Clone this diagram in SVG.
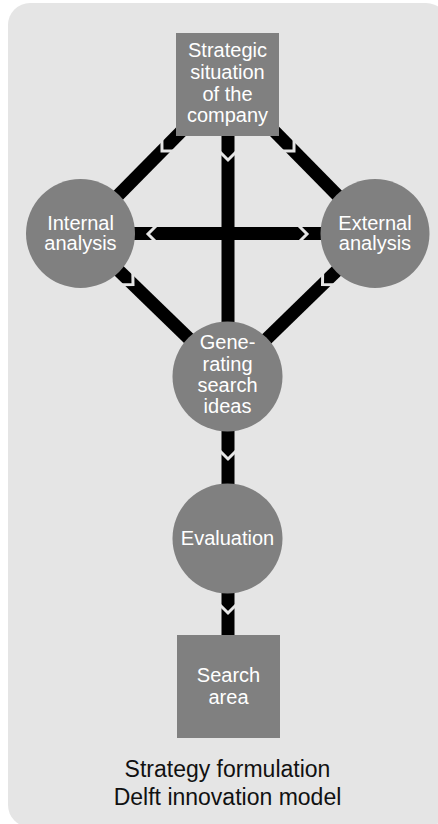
<svg xmlns="http://www.w3.org/2000/svg" xmlns:xlink="http://www.w3.org/1999/xlink" width="438" height="824" viewBox="0 0 438 824">
  <style>
    .panel { fill: #e5e5e5; }
    .node { fill: #808080; }
    .label { font-family: "Liberation Sans", Arial, sans-serif; font-size: 20px; fill: #ffffff; text-anchor: middle; }
    .caption { font-family: "Liberation Sans", Arial, sans-serif; font-size: 23px; fill: #111111; text-anchor: middle; }
    .link { stroke: #000000; stroke-width: 13; fill: none; }
    .chev { stroke: #e5e5e5; stroke-width: 3; fill: none; stroke-linejoin: miter; }
  </style>
  <defs>
    <!-- chevron cut pointing along +x, tip at the origin -->
    <path id="chev" class="chev" d="M-9,-9 L0,0 L-9,9"/>
  </defs>

  <rect class="panel" x="8" y="3" width="440" height="824" rx="22" ry="22"/>

  <g id="connectors">
    <line class="link" x1="228" y1="84" x2="80.5" y2="233.5"/>
    <line class="link" x1="228" y1="84" x2="375" y2="233.5"/>
    <line class="link" x1="228" y1="84" x2="228" y2="376.5"/>
    <line class="link" x1="80.5" y1="233.5" x2="375" y2="233.5"/>
    <line class="link" x1="80.5" y1="233.5" x2="228" y2="376.5"/>
    <line class="link" x1="375" y1="233.5" x2="228" y2="376.5"/>
    <line class="link" x1="228" y1="376.5" x2="228" y2="686"/>
    <!-- direction marks -->
    <use xlink:href="#chev" transform="translate(162,151) rotate(134.6)"/>
    <use xlink:href="#chev" transform="translate(294,151) rotate(45.4)"/>
    <use xlink:href="#chev" transform="translate(228,160) rotate(90)"/>
    <use xlink:href="#chev" transform="translate(148,234) rotate(180)"/>
    <use xlink:href="#chev" transform="translate(307,234)"/>
    <use xlink:href="#chev" transform="translate(133,284.5) rotate(44.2)"/>
    <use xlink:href="#chev" transform="translate(322.5,284.5) rotate(135.8)"/>
    <use xlink:href="#chev" transform="translate(228,459) rotate(90)"/>
    <use xlink:href="#chev" transform="translate(228,613) rotate(90)"/>
  </g>

  <g id="strategic-situation">
    <rect class="node" x="176" y="33" width="103" height="103"/>
    <text class="label" x="227.5" y="57">Strategic</text>
    <text class="label" x="227.5" y="79">situation</text>
    <text class="label" x="227.5" y="101">of the</text>
    <text class="label" x="227.5" y="122">company</text>
  </g>

  <g id="internal-analysis">
    <circle class="node" cx="80.5" cy="233.5" r="54.5"/>
    <text class="label" x="80.5" y="230">Internal</text>
    <text class="label" x="80.5" y="250">analysis</text>
  </g>

  <g id="external-analysis">
    <circle class="node" cx="375" cy="233.5" r="54.5"/>
    <text class="label" x="375" y="230">External</text>
    <text class="label" x="375" y="250">analysis</text>
  </g>

  <g id="generating-search-ideas">
    <circle class="node" cx="227.5" cy="376.5" r="55"/>
    <text class="label" x="227.5" y="349">Gene-</text>
    <text class="label" x="227.5" y="370.5">rating</text>
    <text class="label" x="227.5" y="391.5">search</text>
    <text class="label" x="227.5" y="412.5">ideas</text>
  </g>

  <g id="evaluation">
    <circle class="node" cx="227.5" cy="538.5" r="55"/>
    <text class="label" x="227.5" y="545">Evaluation</text>
  </g>

  <g id="search-area">
    <rect class="node" x="177" y="635" width="103" height="103"/>
    <text class="label" x="228.5" y="682">Search</text>
    <text class="label" x="228.5" y="704">area</text>
  </g>

  <g id="caption">
    <text class="caption" x="227.5" y="777">Strategy formulation</text>
    <text class="caption" x="227.5" y="805">Delft innovation model</text>
  </g>
</svg>
